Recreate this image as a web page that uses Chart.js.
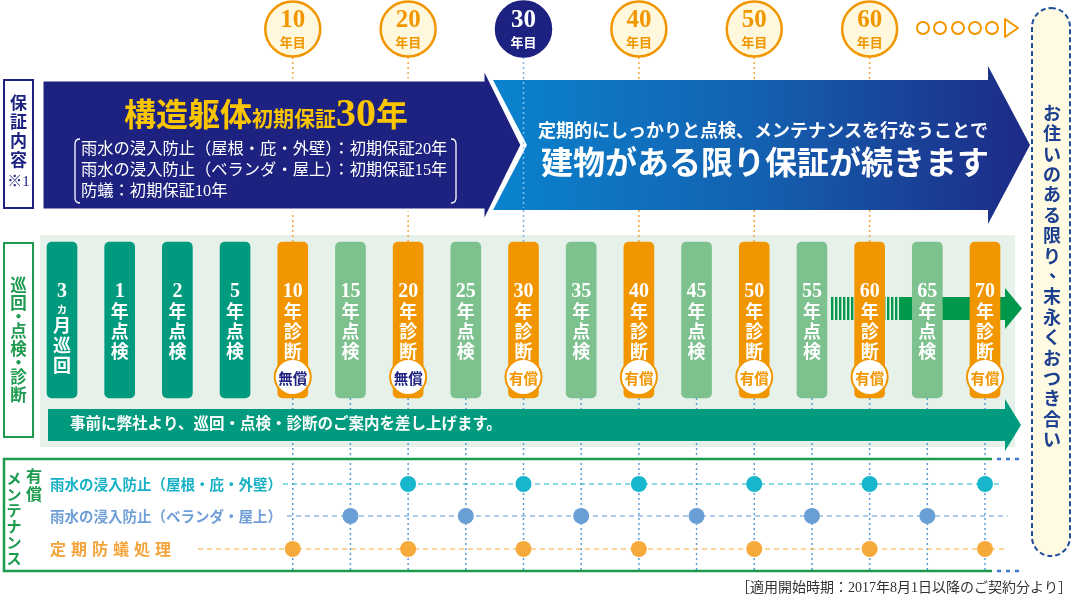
<!DOCTYPE html>
<html lang="ja">
<head>
<meta charset="utf-8">
<title>保証・巡回点検スケジュール</title>
<script src="https://cdn.jsdelivr.net/npm/chart.js@4.4.1/dist/chart.umd.min.js"></script>
<style>
  html, body { margin: 0; padding: 0; background: #fff; }
  #wrap { position: relative; width: 1076px; height: 600px; }
</style>
</head>
<body>
<div id="wrap"><canvas id="scheduleChart"></canvas></div>
<script>
// 巡回・点検・診断の時期
const periods = ["3ヵ月", "1年", "2年", "5年", "10年", "15年", "20年", "25年", "30年", "35年", "40年", "45年", "50年", "55年", "60年", "65年", "70年"];
const visitKinds = ["巡回", "点検", "点検", "点検", "診断", "点検", "診断", "点検", "診断", "点検", "診断", "点検", "診断", "点検", "診断", "点検", "診断"];
const fees = ["", "", "", "", "無償", "", "無償", "", "有償", "", "有償", "", "有償", "", "有償", "", "有償"];

// 上部の節目（年目）
const milestones = ["10年", "20年", "30年", "40年", "50年", "60年"];

// 有償メンテナンスの実施時期
const maintenanceLabels = ["雨水の浸入防止（屋根・庇・外壁）", "雨水の浸入防止（ベランダ・屋上）", "定期防蟻処理"];
const roofWallYears = ["20年", "30年", "40年", "50年", "60年", "70年"];
const verandaYears = ["15年", "25年", "35年", "45年", "55年", "65年"];
const termiteYears = ["10年", "20年", "30年", "40年", "50年", "60年", "70年"];

// 保証内容
const warrantyTitle = ["構造躯体", "初期保証", "30", "年"];
const warrantyLines = ["雨水の浸入防止（屋根・庇・外壁）：初期保証20年", "雨水の浸入防止（ベランダ・屋上）：初期保証15年", "防蟻：初期保証10年"];
const continueLines = ["定期的にしっかりと点検、メンテナンスを行なうことで", "建物がある限り保証が続きます"];
const noticeText = "事前に弊社より、巡回・点検・診断のご案内を差し上げます。";
const closingText = "お住いのある限り、末永くおつき合い";
const footnote = "［適用開始時期：2017年8月1日以降のご契約分より］";

const NAVY = "#1d2180";
const ORANGE = "#f29600";
const TEAL = "#009b7e";
const LIGHT_GREEN = "#7dc28e";
const GREEN = "#1c9a4e";
const SERIF = "'Liberation Serif', 'Noto Sans CJK JP', serif";
const JP = "'Noto Sans CJK JP', sans-serif";

// y scale runs 0..600 top-down, so rows are placed on it directly
const LAYOUT = { milestone: 29, colTop: 242, colBottom: 398, badge: 377, rows: [484, 516, 549] };
const firstColPx = 62, lastColPx = 985, widthPx = 1076;
const step = (lastColPx - firstColPx) / (periods.length - 1);

const colIndex = p => periods.indexOf(p);

function columnColor(i) {
  if (visitKinds[i] === "診断") return ORANGE;
  return i <= colIndex("5年") ? TEAL : LIGHT_GREEN;
}

function roundRectPath(ctx, x, y, w, h, r) {
  ctx.beginPath();
  ctx.moveTo(x + r, y);
  ctx.arcTo(x + w, y, x + w, y + h, r);
  ctx.arcTo(x + w, y + h, x, y + h, r);
  ctx.arcTo(x, y + h, x, y, r);
  ctx.arcTo(x, y, x + w, y, r);
  ctx.closePath();
}

function line(ctx, x1, y1, x2, y2, color, width, dash) {
  ctx.save();
  ctx.strokeStyle = color;
  ctx.lineWidth = width;
  ctx.setLineDash(dash || []);
  ctx.beginPath();
  ctx.moveTo(x1, y1);
  ctx.lineTo(x2, y2);
  ctx.stroke();
  ctx.restore();
}

function vtext(ctx, text, x, y0, pitch) {
  [...text].forEach((c, k) => {
    const y = y0 + k * pitch;
    if (c === "、") ctx.fillText(c, x + 6, y - 6);
    else ctx.fillText(c, x, y);
  });
}

function polygon(ctx, pts) {
  ctx.beginPath();
  pts.forEach(([px, py], k) => (k ? ctx.lineTo(px, py) : ctx.moveTo(px, py)));
  ctx.closePath();
}

const layoutPlugin = {
  id: "layout",
  beforeDatasetsDraw(chart) {
    const ctx = chart.ctx;
    const X = i => chart.scales.x.getPixelForValue(i);
    ctx.save();
    ctx.textAlign = "center";
    ctx.textBaseline = "middle";

    // right closing box
    roundRectPath(ctx, 1032, 8, 38, 548, 19);
    ctx.fillStyle = "#fffbe2";
    ctx.fill();
    ctx.setLineDash([5, 3]);
    ctx.lineWidth = 2;
    ctx.strokeStyle = "#1f4c9d";
    ctx.stroke();
    ctx.setLineDash([]);
    ctx.fillStyle = "#1c3f8f";
    ctx.font = `bold 18px ${JP}`;
    vtext(ctx, closingText, 1052, 113, 20.4);

    // section labels
    ctx.lineWidth = 2;
    ctx.strokeStyle = NAVY;
    ctx.strokeRect(4, 80, 29, 128);
    ctx.fillStyle = NAVY;
    ctx.font = `bold 17px ${JP}`;
    vtext(ctx, "保証内容", 18.5, 103, 19);
    ctx.font = `15px ${SERIF}`;
    ctx.fillText("※1", 18.5, 182);

    ctx.strokeStyle = GREEN;
    ctx.strokeRect(4, 243, 29, 194);
    ctx.fillStyle = GREEN;
    ctx.font = `bold 16.5px ${JP}`;
    [["巡", 285], ["回", 303], ["・", 317], ["点", 331], ["検", 349], ["・", 363], ["診", 377], ["断", 395]]
      .forEach(([c, y]) => ctx.fillText(c, 18.5, y));

    // green panel behind the visits
    ctx.fillStyle = "#e6f2e9";
    ctx.fillRect(40, 235, 975, 212);

    // dotted guides from the milestone circles
    milestones.forEach(m => {
      const cx = X(colIndex(m));
      const col = m === "30年" ? "#7fb2e3" : "#f5a53c";
      line(ctx, cx, 57, cx, 80, col, 1.5, [2, 3]);
      line(ctx, cx, 210, cx, 242, col, 1.5, [2, 3]);
    });

    // dotted guides below the columns
    for (let i = colIndex("10年"); i < periods.length; i++) {
      line(ctx, X(i), 398, X(i), 572, "#5b9bd5", 1.5, [2, 3]);
    }

    // warranty arrows
    const g = ctx.createLinearGradient(492, 0, 1030, 0);
    g.addColorStop(0, "#0a83ce");
    g.addColorStop(0.5, "#1460b0");
    g.addColorStop(1, "#1d2a85");
    polygon(ctx, [[493, 80], [988, 80], [988, 66], [1030, 145], [988, 224], [988, 210], [493, 210], [527, 145]]);
    ctx.fillStyle = g;
    ctx.fill();
    line(ctx, X(colIndex("30年")), 82, X(colIndex("30年")), 208, "rgba(150,195,240,0.9)", 1.5, [2, 3]);

    polygon(ctx, [[42, 80], [483, 80], [483, 66], [522, 145], [483, 224], [483, 210], [42, 210]]);
    ctx.fillStyle = NAVY;
    ctx.fill();
    ctx.strokeStyle = "#fff";
    ctx.lineWidth = 3;
    ctx.stroke();

    // warranty title
    ctx.textAlign = "left";
    ctx.textBaseline = "alphabetic";
    const titleFonts = [`bold 32px ${JP}`, `bold 21px ${JP}`, `bold 40px ${SERIF}`, `bold 32px ${JP}`];
    let total = 0;
    const widths = warrantyTitle.map((t, k) => {
      ctx.font = titleFonts[k];
      const w = ctx.measureText(t).width;
      total += w;
      return w;
    });
    let tx = 266 - total / 2;
    ctx.fillStyle = "#f8c500";
    warrantyTitle.forEach((t, k) => {
      ctx.font = titleFonts[k];
      ctx.fillText(t, tx, 126);
      tx += widths[k];
    });

    ctx.textBaseline = "middle";
    ctx.fillStyle = "#fff";
    ctx.font = `16.3px ${SERIF}`;
    warrantyLines.forEach((t, k) => ctx.fillText(t, 81, 150 + k * 21));
    ctx.strokeStyle = "#fff";
    ctx.lineWidth = 1.3;
    ctx.beginPath();
    ctx.moveTo(80, 139); ctx.quadraticCurveTo(75, 139, 75, 144);
    ctx.lineTo(75, 198); ctx.quadraticCurveTo(75, 203, 80, 203);
    ctx.moveTo(451, 139); ctx.quadraticCurveTo(456, 139, 456, 144);
    ctx.lineTo(456, 198); ctx.quadraticCurveTo(456, 203, 451, 203);
    ctx.stroke();

    ctx.textAlign = "center";
    ctx.font = `bold 18px ${JP}`;
    ctx.fillText(continueLines[0], 763, 130);
    ctx.font = `bold 32px ${JP}`;
    ctx.fillText(continueLines[1], 765, 162);

    // striped green arrow behind the later columns
    ctx.fillStyle = "#00984a";
    for (let sx = 831; sx < 900; sx += 4) ctx.fillRect(sx, 297, 2.4, 23);
    ctx.fillRect(900, 297, 106, 23);
    polygon(ctx, [[1005, 288], [1022, 308.5], [1005, 329]]);
    ctx.fill();

    // notice arrow
    polygon(ctx, [[48, 409], [1005, 409], [1005, 399], [1021, 425], [1005, 451], [1005, 441], [48, 441]]);
    ctx.fillStyle = TEAL;
    ctx.fill();
    ctx.textAlign = "left";
    ctx.fillStyle = "#fff";
    ctx.font = `bold 15.5px ${SERIF}`;
    ctx.fillText(noticeText, 70, 425);

    // paid maintenance box
    ctx.strokeStyle = GREEN;
    ctx.lineWidth = 2.5;
    ctx.beginPath();
    ctx.moveTo(992, 459); ctx.lineTo(4, 459); ctx.lineTo(4, 571); ctx.lineTo(992, 571);
    ctx.stroke();
    line(ctx, 997, 459, 1024, 459, "#3f7fc7", 2.5, [4, 5]);
    line(ctx, 997, 571, 1024, 571, "#3f7fc7", 2.5, [4, 5]);

    ctx.textAlign = "center";
    ctx.fillStyle = GREEN;
    ctx.font = `bold 16px ${JP}`;
    vtext(ctx, "有償", 34, 476, 18);
    ctx.font = `bold 15px ${JP}`;
    vtext(ctx, "メンテナンス", 14, 478, 16);

    const rowText = ["#17b1c6", "#6f9fd6", "#f4a43a"];
    const rowLine = ["#17b6cc", "#5d98d6", "#f6aa3c"];
    const rowStart = [283, 287, 198];
    const rowEnd = [1000, 1008, 1008];
    LAYOUT.rows.forEach((ry, k) => {
      line(ctx, rowStart[k], ry, rowEnd[k], ry, rowLine[k], 1.2, [5, 4]);
      ctx.fillStyle = rowText[k];
      if (k < 2) {
        ctx.textAlign = "left";
        ctx.font = `bold 14.5px ${JP}`;
        ctx.fillText(maintenanceLabels[k], 50, ry);
      } else {
        ctx.textAlign = "center";
        ctx.font = `bold 16px ${JP}`;
        [...maintenanceLabels[k]].forEach((c, n) => ctx.fillText(c, 58 + n * 21, ry));
      }
    });

    // "○○○○○▷" continuation mark
    ctx.strokeStyle = ORANGE;
    ctx.fillStyle = "#fff";
    ctx.lineWidth = 2;
    [923, 940, 958, 975, 992].forEach(cx => {
      ctx.beginPath();
      ctx.arc(cx, 28, 6, 0, Math.PI * 2);
      ctx.fill();
      ctx.stroke();
    });
    ctx.lineJoin = "round";
    polygon(ctx, [[1005, 19], [1018, 28], [1005, 37]]);
    ctx.stroke();

    ctx.restore();
  },

  afterDatasetsDraw(chart) {
    const ctx = chart.ctx;
    const Y = v => chart.scales.y.getPixelForValue(v);
    const colMeta = chart.getDatasetMeta(chart.data.datasets.findIndex(d => d.id === "columns"));
    ctx.save();
    ctx.textAlign = "center";
    ctx.textBaseline = "middle";

    // vertical column captions
    colMeta.data.forEach((bar, i) => {
      const m = periods[i].match(/^(\d+)(.*)$/);
      const tokens = [m[1], ...m[2], ...visitKinds[i]];
      let y = 292;
      let prev = 19;
      ctx.fillStyle = "#fff";
      tokens.forEach((t, k) => {
        const h = k === 0 ? 19 : t === "ヵ" ? 14 : 20;
        if (k > 0) y += (prev + h) / 2;
        if (k === 0) ctx.font = `bold 20px ${SERIF}`;
        else if (t === "ヵ") ctx.font = `bold 12px ${JP}`;
        else ctx.font = `bold 18px ${JP}`;
        ctx.fillText(t, bar.x, y);
        prev = h;
      });
      if (fees[i]) {
        ctx.fillStyle = fees[i] === "無償" ? NAVY : ORANGE;
        ctx.font = `bold 14.5px ${JP}`;
        ctx.fillText(fees[i], bar.x, Y(LAYOUT.badge) + 1);
      }
    });

    // milestone numbers
    const msMeta = chart.getDatasetMeta(chart.data.datasets.findIndex(d => d.id === "milestones"));
    msMeta.data.forEach((pt, k) => {
      ctx.fillStyle = milestones[k] === "30年" ? "#fff" : ORANGE;
      ctx.font = `bold 25px ${SERIF}`;
      ctx.fillText(milestones[k].replace("年", ""), pt.x, pt.y - 8);
      ctx.font = `bold 13px ${JP}`;
      ctx.fillText("年目", pt.x, pt.y + 13);
    });

    ctx.textAlign = "right";
    ctx.fillStyle = "#333";
    ctx.font = `14px ${SERIF}`;
    ctx.fillText(footnote, 1072, 588);
    ctx.restore();
  }
};

const dotSet = (label, years, color, row) => ({
  type: "scatter",
  label,
  data: years.map(y => ({ x: colIndex(y), y: LAYOUT.rows[row] })),
  pointRadius: 8,
  pointBackgroundColor: color,
  pointBorderWidth: 0,
  showLine: false,
  clip: false,
  order: 1
});

new Chart(document.getElementById("scheduleChart"), {
  type: "bar",
  data: {
    datasets: [
      {
        id: "milestones",
        type: "scatter",
        label: "節目",
        data: milestones.map(m => ({ x: colIndex(m), y: LAYOUT.milestone })),
        pointRadius: 27.5,
        pointBackgroundColor: milestones.map(m => (m === "30年" ? NAVY : "#fff8dc")),
        pointBorderColor: milestones.map(m => (m === "30年" ? NAVY : ORANGE)),
        pointBorderWidth: 2.5,
        showLine: false,
        clip: false,
        order: 1
      },
      {
        id: "badges",
        type: "scatter",
        label: "費用",
        data: fees.map((f, i) => (f ? { x: i, y: LAYOUT.badge } : null)).filter(Boolean),
        pointRadius: 18,
        pointBackgroundColor: "#fff",
        pointBorderColor: ORANGE,
        pointBorderWidth: 2,
        showLine: false,
        clip: false,
        order: 1
      },
      dotSet(maintenanceLabels[0], roofWallYears, "#17b6cc", 0),
      dotSet(maintenanceLabels[1], verandaYears, "#6a9fd6", 1),
      dotSet(maintenanceLabels[2], termiteYears, "#f6aa3c", 2),
      {
        id: "columns",
        label: "巡回・点検・診断",
        data: periods.map((p, i) => ({ x: i, y: [LAYOUT.colTop, LAYOUT.colBottom] })),
        backgroundColor: periods.map((p, i) => columnColor(i)),
        borderRadius: 5,
        borderSkipped: false,
        barThickness: 30,
        order: 10
      }
    ]
  },
  options: {
    responsive: true,
    maintainAspectRatio: false,
    animation: false,
    events: [],
    layout: { padding: 0, autoPadding: false },
    plugins: { legend: { display: false }, tooltip: { enabled: false } },
    scales: {
      x: {
        type: "linear",
        display: false,
        offset: false,
        bounds: "data",
        min: -firstColPx / step,
        max: periods.length - 1 + (widthPx - lastColPx) / step
      },
      y: { type: "linear", display: false, reverse: true, bounds: "data", min: 0, max: 600 }
    }
  },
  plugins: [layoutPlugin]
});
</script>
</body>
</html>
